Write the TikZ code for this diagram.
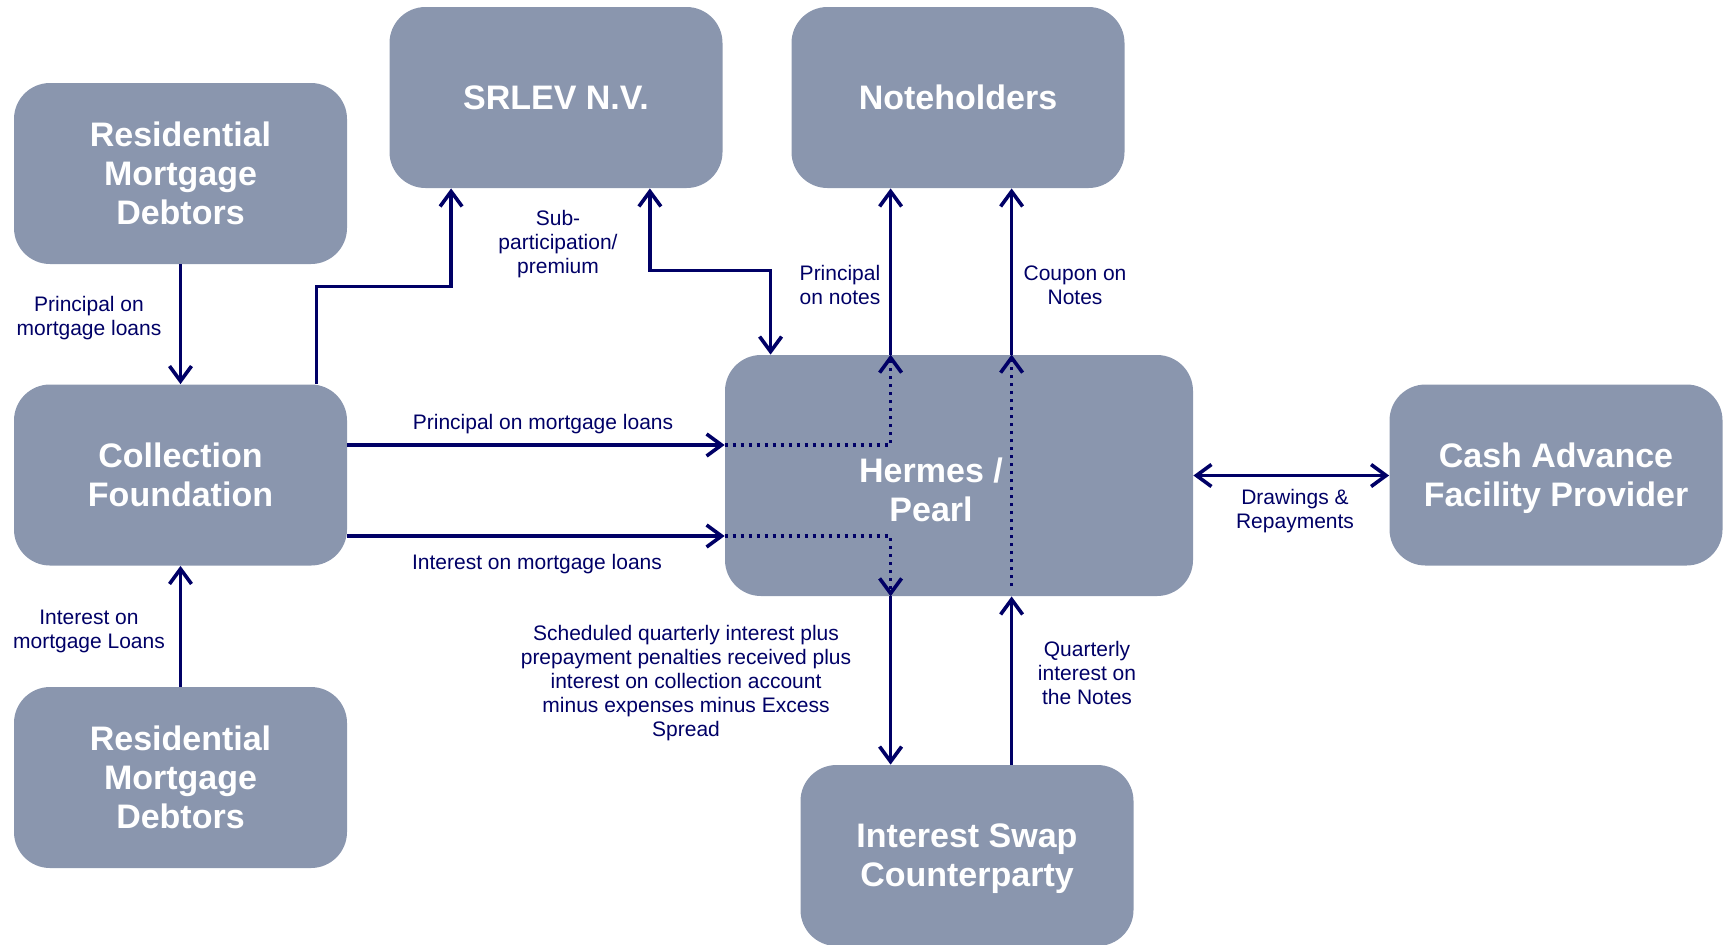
\documentclass[tikz,border=0pt]{standalone}
\usepackage{fontspec}
\setmainfont{Liberation Sans}
\usetikzlibrary{arrows.meta}
\definecolor{boxgray}{RGB}{138,150,174}
\definecolor{navy}{RGB}{0,0,102}

\begin{document}
\begin{tikzpicture}[x=0.5pt,y=-0.5pt,
    >={Straight Barb[length=7.5pt,width=11pt]},
    box/.style={fill=boxgray,rounded corners=18pt,minimum width=166.5pt,minimum height=90.5pt,inner sep=0pt,align=center,text=white,text depth=0pt,font=\bfseries\fontsize{17}{19.5}\selectfont},
    lbl/.style={align=center,text=navy,inner sep=0pt,font=\fontsize{10.5}{12}\selectfont},
    flow/.style={draw=navy,line width=1.8pt},
    dotflow/.style={dash pattern=on 1.6pt off 2.4pt}]
    \useasboundingbox (0,0) rectangle (1727,944);
    \foreach \n/\x/\y/\t in {rmdA/180.5/173.5/{Residential\\Mortgage\\Debtors}, srlev/556/97.5/{SRLEV N.V.}, notes/958/97.5/{Noteholders}, cf/180.5/475/{Collection\\Foundation}, cash/1556/475/{Cash Advance\\Facility Provider}, rmdB/180.5/777.5/{Residential\\Mortgage\\Debtors}, swap/967/855.5/{Interest Swap\\Counterparty}}{
        \node[box] (\n) at (\x,\y) {\t};
    }
    \node[box,minimum width=234pt,minimum height=120.5pt] (hermes) at (959,475.5) {};

    \coordinate (pOut) at ([yshift=15pt]cf.east);
    \coordinate (iOut) at ([yshift=-30.5pt]cf.east);
    \coordinate (pnTop) at ([xshift=83pt]hermes.north west);
    \coordinate (pnBot) at ([xshift=83pt]hermes.south west);
    \coordinate (cpTop) at ([xshift=143.5pt]hermes.north west);
    \coordinate (cpBot) at ([xshift=143.5pt]hermes.south west);

    \draw[flow,->] (rmdA) -- (cf);
    \draw[flow,->] (rmdB) -- (cf);
    \draw[flow,->] ([xshift=-15.5pt]cf.north east) |- ([xshift=31pt,yshift=-49pt]srlev.south west) -- ([xshift=31pt]srlev.south west);
    \draw[flow,<->] ([xshift=-36.5pt]srlev.south east) |- ([xshift=23pt,yshift=42pt]hermes.north west) -- ([xshift=23pt]hermes.north west);
    \draw[flow,->] (pOut) -- (pOut -| hermes.west);
    \draw[flow,->] (iOut) -- (iOut -| hermes.west);
    \draw[flow,dotflow,->] (pOut -| hermes.west) -| (pnTop);
    \draw[flow,dotflow,->] (iOut -| hermes.west) -| (pnBot);
    \draw[flow,->] (pnTop) -- (pnTop |- notes.south);
    \draw[flow,->] (pnBot) -- (pnBot |- swap.north);
    \draw[flow,->] (cpTop |- swap.north) -- (cpBot);
    \draw[flow,dotflow,->] ([yshift=5pt]cpBot) -- (cpTop);
    \draw[flow,->] (cpTop) -- (cpTop |- notes.south);
    \draw[flow,<->] (hermes.east) -- (hermes.east -| cash.west);

    \node[box,fill=none,minimum width=0pt,minimum height=0pt] (hermesTxt) at (931,490) {Hermes /\\Pearl};
    \foreach \n/\x/\y/\t in {pmlA/89/318/{Principal on\\mortgage loans}, imlB/89/631/{Interest on\\mortgage Loans}, subp/558/244/{Sub-\\participation/\\premium}, pnotes/840/285/{Principal\\on notes}, cpn/1075/285/{Coupon on\\Notes}, pml/543/424/{Principal on mortgage loans}, iml/537/564/{Interest on mortgage loans}, drw/1295/511/{Drawings \&\\Repayments}, sched/686/683/{Scheduled quarterly interest plus\\prepayment penalties received plus\\interest on collection account\\minus expenses minus Excess\\Spread}, qint/1087/673/{Quarterly\\interest on\\the Notes}}{
        \node[lbl] (\n) at (\x,\y) {\t};
    }
\end{tikzpicture}
\end{document}
